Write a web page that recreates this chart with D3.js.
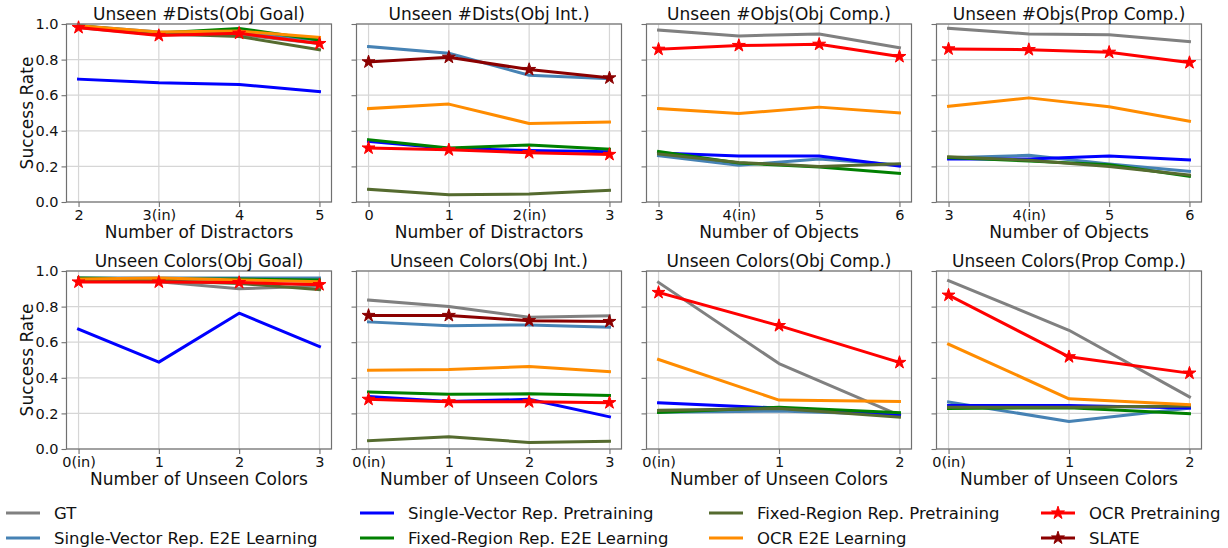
<!DOCTYPE html>
<html>
<head>
<meta charset="utf-8">
<script src="https://cdn.jsdelivr.net/npm/d3@7"></script>
<style>
  body { margin: 0; background: #fff; }
  svg { font-family: "DejaVu Sans", sans-serif; }
</style>
</head>
<body>
<svg id="chart" width="1228" height="548"></svg>
<script>
// series in legend order
const seriesNames = ["GT", "Single-Vector Rep. E2E Learning", "Single-Vector Rep. Pretraining",
  "Fixed-Region Rep. E2E Learning", "Fixed-Region Rep. Pretraining", "OCR E2E Learning",
  "OCR Pretraining", "SLATE"];
const seriesColors = ["#808080", "#4682b4", "#0000ff", "#008000", "#556b2f", "#ff8c00", "#ff0000", "#8b0000"];
const seriesStar = [false, false, false, false, false, false, true, true];

// tick labels
const ticksDistsGoal = ["2", "3(in)", "4", "5"];
const ticksDistsInt = ["0", "1", "2(in)", "3"];
const ticksObjs = ["3", "4(in)", "5", "6"];
const ticksColors4 = ["0(in)", "1", "2", "3"];
const ticksColors3 = ["0(in)", "1", "2"];

// values per panel, one row per series (null = not drawn)
const distsGoal = [
  [0.98, 0.94, 0.94, 0.89],
  [0.99, 0.955, 0.95, 0.91],
  [0.69, 0.67, 0.66, 0.62],
  [0.99, 0.95, 0.975, 0.91],
  [0.985, 0.945, 0.93, 0.855],
  [0.99, 0.955, 0.96, 0.925],
  [0.98, 0.935, 0.948, 0.89],
  null
];
const distsInt = [
  null,
  [0.873, 0.836, 0.712, 0.693],
  [0.34, 0.30, 0.29, 0.282],
  [0.35, 0.303, 0.32, 0.297],
  [0.071, 0.041, 0.045, 0.065],
  [0.525, 0.55, 0.441, 0.449],
  [0.303, 0.293, 0.277, 0.267],
  [0.787, 0.813, 0.744, 0.697]
];
const objsObjComp = [
  [0.966, 0.933, 0.944, 0.867],
  [0.26, 0.207, 0.241, 0.209],
  [0.275, 0.258, 0.258, 0.202],
  [0.284, 0.219, 0.196, 0.161],
  [0.27, 0.222, 0.20, 0.215],
  [0.525, 0.497, 0.533, 0.501],
  [0.858, 0.879, 0.886, 0.817],
  null
];
const objsPropComp = [
  [0.976, 0.944, 0.94, 0.901],
  [0.249, 0.262, 0.213, 0.172],
  [0.241, 0.241, 0.258, 0.236],
  [0.249, 0.23, 0.209, 0.144],
  [0.254, 0.234, 0.20, 0.151],
  [0.538, 0.585, 0.535, 0.454],
  [0.86, 0.856, 0.841, 0.783],
  null
];
const colorsGoal = [
  [0.945, 0.94, 0.90, 0.915],
  [0.96, 0.96, 0.96, 0.96],
  [0.673, 0.488, 0.763, 0.576],
  [0.96, 0.955, 0.955, 0.95],
  [0.95, 0.945, 0.93, 0.895],
  [0.955, 0.96, 0.95, 0.94],
  [0.938, 0.938, 0.935, 0.923],
  null
];
const colorsInt = [
  [0.837, 0.80, 0.74, 0.748],
  [0.714, 0.693, 0.697, 0.684],
  [0.295, 0.267, 0.279, 0.181],
  [0.32, 0.307, 0.31, 0.301],
  [0.047, 0.069, 0.037, 0.043],
  [0.443, 0.447, 0.464, 0.434],
  [0.279, 0.265, 0.265, 0.26],
  [0.75, 0.75, 0.721, 0.716]
];
const colorsObjComp = [
  [0.936, 0.48, 0.189],
  [0.206, 0.213, 0.193],
  [0.26, 0.23, 0.189],
  [0.206, 0.234, 0.204],
  [0.217, 0.228, 0.179],
  [0.503, 0.275, 0.267],
  [0.879, 0.693, 0.486],
  null
];
const colorsPropComp = [
  [0.946, 0.667, 0.293],
  [0.264, 0.155, 0.23],
  [0.245, 0.245, 0.23],
  [0.228, 0.232, 0.198],
  [0.234, 0.234, 0.241],
  [0.589, 0.282, 0.249],
  [0.864, 0.518, 0.426],
  null
];

const panels = [
  { title: "Unseen #Dists(Obj Goal)", xlabel: "Number of Distractors", ticks: ticksDistsGoal, vals: distsGoal },
  { title: "Unseen #Dists(Obj Int.)", xlabel: "Number of Distractors", ticks: ticksDistsInt, vals: distsInt },
  { title: "Unseen #Objs(Obj Comp.)", xlabel: "Number of Objects", ticks: ticksObjs, vals: objsObjComp },
  { title: "Unseen #Objs(Prop Comp.)", xlabel: "Number of Objects", ticks: ticksObjs, vals: objsPropComp },
  { title: "Unseen Colors(Obj Goal)", xlabel: "Number of Unseen Colors", ticks: ticksColors4, vals: colorsGoal },
  { title: "Unseen Colors(Obj Int.)", xlabel: "Number of Unseen Colors", ticks: ticksColors4, vals: colorsInt },
  { title: "Unseen Colors(Obj Comp.)", xlabel: "Number of Unseen Colors", ticks: ticksColors3, vals: colorsObjComp },
  { title: "Unseen Colors(Prop Comp.)", xlabel: "Number of Unseen Colors", ticks: ticksColors3, vals: colorsPropComp }
];

const svg = d3.select("#chart");
const pw = 265, ph = 178;
const colX = [66.5, 356.5, 646.5, 936.5];
const rowY = [24, 271];
const gridCol = "#d6d6d6", spineCol = "#707070";
const star = d3.symbol().type(d3.symbolStar).size(52);

panels.forEach(function (p, k) {
  const col = k % 4, row = Math.floor(k / 4);
  const g = svg.append("g").attr("transform", "translate(" + colX[col] + "," + rowY[row] + ")");
  const n = p.ticks.length;
  const x = d3.scaleLinear().domain([-0.05 * (n - 1), (n - 1) * 1.05]).range([0, pw]);
  const y = d3.scaleLinear().domain([0, 1]).range([ph, 0]);
  const yt = [0, 0.2, 0.4, 0.6, 0.8, 1.0];

  // grid
  g.selectAll(".gx").data(d3.range(n)).enter().append("line")
    .attr("x1", d => x(d)).attr("x2", d => x(d)).attr("y1", 0).attr("y2", ph)
    .attr("stroke", gridCol).attr("stroke-width", 1.2);
  g.selectAll(".gy").data(yt).enter().append("line")
    .attr("x1", 0).attr("x2", pw).attr("y1", d => y(d)).attr("y2", d => y(d))
    .attr("stroke", gridCol).attr("stroke-width", 1.2);

  // axes
  const xa = g.append("g").attr("transform", "translate(0," + ph + ")")
    .call(d3.axisBottom(x).tickValues(d3.range(n)).tickFormat(i => p.ticks[i]).tickSize(5).tickPadding(2.5));
  const ya = g.append("g")
    .call(d3.axisLeft(y).tickValues(yt).tickFormat(col === 0 ? d3.format(".1f") : "").tickSize(5).tickPadding(3));
  [xa, ya].forEach(function (a) {
    a.select(".domain").remove();
    a.selectAll(".tick line").attr("stroke", spineCol).attr("stroke-width", 1.1);
    a.selectAll(".tick text").attr("fill", "#111").style("font-size", "14.5px").style("font-family", "DejaVu Sans");
  });

  // series
  const line = d3.line().x((d, i) => x(i)).y(d => y(d));
  p.vals.forEach(function (v, s) {
    if (!v) return;
    g.append("path").datum(v).attr("d", line)
      .attr("fill", "none").attr("stroke", seriesColors[s]).attr("stroke-width", 3)
      .attr("stroke-linejoin", "round").attr("stroke-linecap", "square");
    if (seriesStar[s]) {
      g.selectAll(null).data(v).enter().append("path")
        .attr("d", star).attr("transform", (d, i) => "translate(" + x(i) + "," + y(d) + ")")
        .attr("fill", seriesColors[s]).attr("stroke", seriesColors[s]).attr("stroke-width", 1);
    }
  });

  // frame
  g.append("rect").attr("width", pw).attr("height", ph)
    .attr("fill", "none").attr("stroke", spineCol).attr("stroke-width", 1.2);

  // title and labels
  g.append("text").attr("x", pw / 2).attr("y", -4).attr("text-anchor", "middle")
    .style("font-size", "17px").attr("fill", "#111").text(p.title);
  g.append("text").attr("x", pw / 2).attr("y", ph + 36).attr("text-anchor", "middle")
    .style("font-size", "17px").attr("fill", "#111").text(p.xlabel);
  if (col === 0) {
    g.append("text").attr("transform", "translate(-34," + ph / 2 + ") rotate(-90)")
      .attr("text-anchor", "middle").style("font-size", "17px").attr("fill", "#111").text("Success Rate");
  }
});

// legend: 4 columns, filled column by column
const legX = [6, 360, 709, 1041];
const legY = [513, 538];
seriesNames.forEach(function (name, s) {
  const lx = legX[Math.floor(s / 2)], ly = legY[s % 2];
  const lg = svg.append("g").attr("transform", "translate(" + lx + "," + ly + ")");
  lg.append("line").attr("x1", 0).attr("x2", 34).attr("y1", 0).attr("y2", 0)
    .attr("stroke", seriesColors[s]).attr("stroke-width", 3);
  if (seriesStar[s]) {
    lg.append("path").attr("d", star).attr("transform", "translate(17,0)")
      .attr("fill", seriesColors[s]).attr("stroke", seriesColors[s]).attr("stroke-width", 1);
  }
  lg.append("text").attr("x", 48).attr("y", 6).style("font-size", "16.5px").attr("fill", "#111").text(name);
});
</script>
</body>
</html>
